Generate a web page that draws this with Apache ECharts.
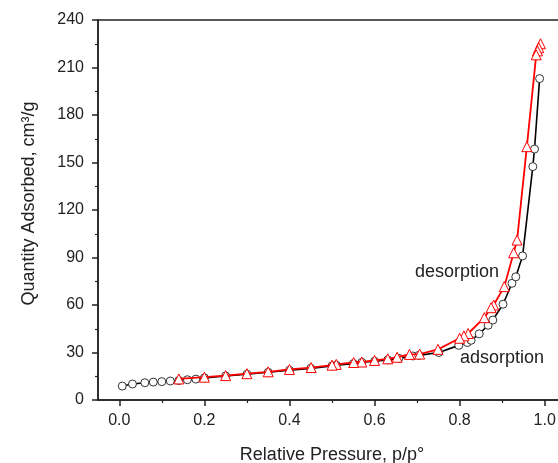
<!DOCTYPE html>
<html>
<head>
<meta charset="utf-8">
<script src="https://cdn.jsdelivr.net/npm/echarts@6/dist/echarts.min.js"></script>
<style>html,body{margin:0;padding:0;background:#fff;}#c{width:558px;height:463px;}</style>
</head>
<body>
<div id="c"></div>
<script>
var adsX = [0.007,0.031,0.06,0.08,0.10,0.12,0.14,0.16,0.18,0.20,0.25,0.30,0.35,0.40,0.45,0.50,0.51,0.55,0.57,0.60,0.631,0.657,0.69,0.704,0.751,0.798,0.818,0.827,0.846,0.867,0.878,0.902,0.923,0.932,0.948,0.972,0.976,0.988];
var adsY = [8.8,10.1,10.9,11.3,11.6,12.0,12.3,12.8,13.2,14.0,15.2,16.3,17.5,18.8,20.0,21.5,22.0,23.0,23.8,24.5,25.3,26.3,27.8,28.2,30.0,34.5,36.3,37.7,41.8,47.2,50.5,60.5,73.7,77.8,91.0,147.4,158.5,203.0];
var desX = [0.99,0.986,0.983,0.98,0.958,0.935,0.927,0.905,0.88,0.874,0.858,0.82,0.81,0.80,0.749,0.706,0.682,0.653,0.631,0.60,0.57,0.551,0.51,0.50,0.451,0.40,0.35,0.30,0.25,0.20,0.14];
var desY = [225,222.5,220.5,218,160,101,93,71.6,60,58.3,52,42,40.5,39,32,29,28.8,27,26,25,24,23.7,22.5,22,20.5,19.3,17.8,16.6,15.4,14.4,13.3];
var xTicks = [0,0.2,0.4,0.6,0.8,1.0];
var xMinorTicks = [0.1,0.3,0.5,0.7,0.9];
var yName = 'Quantity Adsorbed, cm\u00B3/g';
var xName = 'Relative Pressure, p/p\u00B0';
var labels = ['desorption','adsorption'];

function pairs(xs, ys){ return xs.map(function(x,i){ return [x, ys[i]]; }); }

var chart = echarts.init(document.getElementById('c'), null, {renderer:'canvas'});
var font = 'Liberation Sans, Arial, sans-serif';
chart.setOption({
  animation:false,
  backgroundColor:'#fff',
  grid:{left:98, top:20, height:380, width:468, outerBoundsMode:'none', containLabel:false, show:true, borderColor:'#222', borderWidth:1.5},
  xAxis:[{
    type:'value', min:-0.05, max:1.05,
    name:xName, nameLocation:'middle', nameGap:46,
    nameTextStyle:{fontFamily:font, fontSize:18, color:'#222'},
    axisLine:{onZero:false, lineStyle:{color:'#222', width:1.5}},
    axisTick:{show:true, customValues:xTicks, length:6, lineStyle:{color:'#222', width:1.5}},
    axisLabel:{customValues:xTicks, margin:13, fontFamily:font, fontSize:16, color:'#222', formatter:function(v){return v.toFixed(1);}},
    splitLine:{show:false}
  },{
    type:'value', min:-0.05, max:1.05, position:'bottom', gridIndex:0,
    axisLine:{show:false},
    axisTick:{show:true, customValues:xMinorTicks, length:3, lineStyle:{color:'#222', width:1.2}},
    axisLabel:{show:false},
    splitLine:{show:false}
  }],
  yAxis:{
    type:'value', min:0, max:240, interval:30,
    name:yName, nameLocation:'middle', nameGap:60, nameRotate:90,
    nameTextStyle:{fontFamily:font, fontSize:18, color:'#222', padding:[0,0,0,13]},
    axisLine:{show:true, onZero:false, lineStyle:{color:'#222', width:1.5}},
    axisTick:{show:true, length:6, lineStyle:{color:'#222', width:1.5}},
    minorTick:{show:true, splitNumber:2, length:3, lineStyle:{color:'#222', width:1.2}},
    axisLabel:{margin:14, fontFamily:font, fontSize:16, color:'#222'},
    splitLine:{show:false}
  },
  series:[{
    name:'adsorption', type:'line', xAxisIndex:0,
    data:pairs(adsX, adsY),
    symbol:'circle', symbolSize:8, showAllSymbol:true,
    lineStyle:{color:'#000', width:1.6},
    itemStyle:{color:'#fff', borderColor:'#333', borderWidth:1},
    z:2
  },{
    name:'desorption', type:'line', xAxisIndex:0,
    data:pairs(desX, desY),
    symbol:'triangle', symbolSize:10, showAllSymbol:true,
    lineStyle:{color:'#ff0000', width:1.8},
    itemStyle:{color:'#fff', borderColor:'#ff0000', borderWidth:1},
    z:3
  }],
  graphic:[
    {type:'text', left:415, top:263, style:{text:labels[0], font:'18px '+font, fill:'#222'}},
    {type:'text', left:460, top:349, style:{text:labels[1], font:'18px '+font, fill:'#222'}}
  ]
});
</script>
</body>
</html>
